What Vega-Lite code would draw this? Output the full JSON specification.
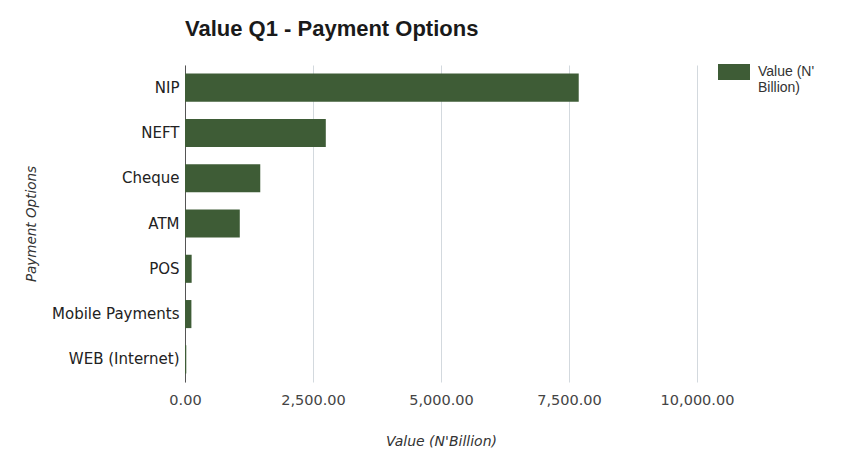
{
  "$schema": "https://vega.github.io/schema/vega-lite/v6.json",
  "autosize": "none",
  "width": 512,
  "height": 317,
  "padding": {"left": 185, "top": 65, "right": 157, "bottom": 70},
  "background": "white",
  "title": {
    "text": "Value Q1 - Payment Options",
    "anchor": "start",
    "frame": "group",
    "font": "Liberation Sans",
    "fontSize": 22,
    "fontWeight": "bold",
    "color": "#1a1a1a",
    "offset": 15
  },
  "data": {
    "values": [
      {"option": "NIP", "value": 7690, "series": "Value (N' Billion)"},
      {"option": "NEFT", "value": 2750, "series": "Value (N' Billion)"},
      {"option": "Cheque", "value": 1470, "series": "Value (N' Billion)"},
      {"option": "ATM", "value": 1070, "series": "Value (N' Billion)"},
      {"option": "POS", "value": 130, "series": "Value (N' Billion)"},
      {"option": "Mobile Payments", "value": 125, "series": "Value (N' Billion)"},
      {"option": "WEB (Internet)", "value": 25, "series": "Value (N' Billion)"}
    ]
  },
  "mark": {"type": "bar"},
  "encoding": {
    "y": {
      "field": "option",
      "type": "nominal",
      "sort": null,
      "scale": {"paddingInner": 0.38, "paddingOuter": 0.19},
      "axis": {
        "title": "Payment Options",
        "titleFont": "DejaVu Sans",
        "titleFontSize": 13.5,
        "titleFontStyle": "italic",
        "titleFontWeight": "normal",
        "titleColor": "#333",
        "titlePadding": 13,
        "labelFont": "DejaVu Sans",
        "labelFontSize": 15,
        "labelColor": "#222",
        "labelPadding": 6,
        "ticks": false,
        "domainColor": "#555",
        "domainWidth": 1
      }
    },
    "x": {
      "field": "value",
      "type": "quantitative",
      "scale": {"domain": [0, 10000], "nice": false},
      "axis": {
        "title": "Value (N'Billion)",
        "values": [0, 2500, 5000, 7500, 10000],
        "format": ",.2f",
        "titleFont": "DejaVu Sans",
        "titleFontSize": 14,
        "titleFontStyle": "italic",
        "titleFontWeight": "normal",
        "titleColor": "#333",
        "titlePadding": 28,
        "labelFont": "DejaVu Sans",
        "labelFontSize": 14.5,
        "labelColor": "#444",
        "labelPadding": 11,
        "labelFlush": false,
        "ticks": false,
        "domain": false,
        "grid": true,
        "gridColor": "#d3d9de",
        "gridWidth": 1
      }
    },
    "color": {
      "field": "series",
      "type": "nominal",
      "scale": {"range": ["#3e5c36"]},
      "legend": {
        "title": null,
        "orient": "none",
        "legendX": 533,
        "legendY": -9,
        "symbolType": "M-1,-0.5L1,-0.5L1,0.5L-1,0.5Z",
        "symbolSize": 1024,
        "symbolStrokeWidth": 0,
        "symbolOpacity": 1,
        "labelFont": "Liberation Sans",
        "labelFontSize": 14,
        "labelColor": "#333",
        "labelExpr": "['Value (N\\'', 'Billion)']",
        "labelBaseline": "middle",
        "labelOffset": 8
      }
    }
  },
  "config": {"view": {"stroke": null}}
}
